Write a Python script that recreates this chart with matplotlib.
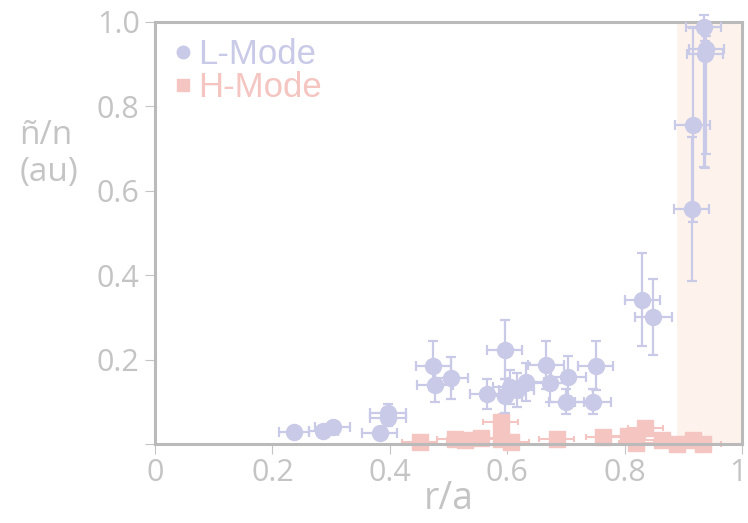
import matplotlib.pyplot as plt
from matplotlib.lines import Line2D
from matplotlib.transforms import ScaledTranslation

# --- data ---
l_x = [0.237, 0.287, 0.303, 0.383, 0.397, 0.397, 0.474, 0.477, 0.505, 0.565,
       0.596, 0.596, 0.605, 0.616, 0.632, 0.666, 0.673, 0.704, 0.701, 0.746,
       0.751, 0.830, 0.849, 0.914, 0.916, 0.935, 0.939, 0.937]
l_y = [0.029, 0.031, 0.040, 0.027, 0.074, 0.062, 0.186, 0.139, 0.156, 0.119,
       0.223, 0.114, 0.135, 0.128, 0.148, 0.188, 0.144, 0.158, 0.100, 0.100,
       0.186, 0.342, 0.300, 0.557, 0.755, 0.987, 0.937, 0.925]
l_yerr_lo = [0.005, 0.005, 0.008, 0.005, 0.02, 0.02, 0.057, 0.04, 0.05, 0.036,
             0.07, 0.04, 0.04, 0.04, 0.045, 0.057, 0.045, 0.05, 0.03, 0.03,
             0.057, 0.11, 0.09, 0.17, 0.23, 0.33, 0.25, 0.27]
l_yerr_hi = [0.005, 0.005, 0.008, 0.005, 0.02, 0.02, 0.057, 0.04, 0.05, 0.036,
             0.07, 0.04, 0.04, 0.04, 0.045, 0.057, 0.045, 0.05, 0.03, 0.03,
             0.057, 0.11, 0.09, 0.17, 0.23, 0.03, 0.03, 0.03]
l_xerr = [0.025, 0.025, 0.03, 0.03, 0.03, 0.03, 0.03, 0.03, 0.028, 0.028,
          0.03, 0.03, 0.03, 0.03, 0.03, 0.03, 0.03, 0.03, 0.03, 0.03,
          0.03, 0.03, 0.031, 0.03, 0.03, 0.03, 0.03, 0.03]

h_x = [0.451, 0.511, 0.528, 0.555, 0.589, 0.590, 0.607, 0.684, 0.764, 0.805,
       0.820, 0.835, 0.863, 0.889, 0.917, 0.934]
h_y = [0.005, 0.013, 0.010, 0.015, 0.053, 0.013, 0.005, 0.013, 0.017, 0.020,
       0.002, 0.037, 0.010, 0.0, 0.010, 0.0]
h_yerr = [0.008, 0.008, 0.008, 0.008, 0.017, 0.008, 0.008, 0.008, 0.008, 0.008,
          0.008, 0.008, 0.008, 0.008, 0.008, 0.008]
h_xerr = [0.03] * 16

x_ticks = [0, 0.2, 0.4, 0.6, 0.8, 1.0]
x_labels = ["0", "0.2", "0.4", "0.6", "0.8", "1"]
y_ticks = [0, 0.2, 0.4, 0.6, 0.8, 1.0]
y_labels = ["", "0.2", "0.4", "0.6", "0.8", "1.0"]

L_COL = "#c9c9e8"
H_COL = "#f4c5c1"
GRAY = "#bababa"
TXT = "#c4c4c4"
FONT = ["Open Sans", "DejaVu Sans"]

fig = plt.figure(figsize=(7.48, 5.23), dpi=100)
ax = fig.add_axes([0.2072, 0.151, 0.7848, 0.807])

ax.axvspan(0.89, 1.0, color="#fdf2ec", zorder=0, lw=0)

ax.errorbar(h_x, h_y, xerr=h_xerr, yerr=h_yerr, fmt="s", ms=12, color=H_COL,
            ecolor=H_COL, elinewidth=1.5, capsize=2.5, capthick=1.5,
            clip_on=False, zorder=2)
ax.errorbar(l_x, l_y, xerr=l_xerr, yerr=[l_yerr_lo, l_yerr_hi], fmt="o",
            ms=11.5, color=L_COL, ecolor=L_COL, elinewidth=1.6, capsize=3.5,
            capthick=1.6, clip_on=False, zorder=3)

ax.set_xlim(0, 1)
ax.set_ylim(0, 1)
ax.set_xticks(x_ticks)
ax.set_xticklabels(x_labels)
ax.set_yticks(y_ticks)
ax.set_yticklabels(y_labels)
for s in ax.spines.values():
    s.set_color(GRAY)
    s.set_linewidth(2.2)
ax.tick_params(colors=TXT, labelcolor=TXT, labelsize=22, length=7, width=0.8)
ax.tick_params(axis="x", pad=3)
ax.tick_params(axis="y", pad=4)
for t in ax.get_xticklabels() + ax.get_yticklabels():
    t.set_family(FONT)
# last x label sits on the right edge; nudge it in a little
last = ax.get_xticklabels()[-1]
last.set_transform(last.get_transform() + ScaledTranslation(-3 / 72, 0, fig.dpi_scale_trans))

ax.set_xlabel("r/a", fontsize=27, color=TXT, family=FONT, labelpad=-6)
fig.text(0.026, 0.705, "ñ/n\n(au)", fontsize=24, color=TXT, family=FONT,
         ha="left", va="center", linespacing=1.15)

handles = [Line2D([], [], marker="o", ls="", ms=9, color=L_COL),
           Line2D([], [], marker="s", ls="", ms=8, color=H_COL)]
leg = ax.legend(handles, ["L-Mode", "H-Mode"], loc="upper left",
                frameon=False, handletextpad=0.05,
                handlelength=0.8, labelspacing=0.0, borderaxespad=0.0,
                bbox_to_anchor=(0.0, 0.995),
                labelcolor=[L_COL, H_COL],
                prop={"family": ["Liberation Sans Narrow", "Liberation Sans", "DejaVu Sans"],
                      "size": 25})

fig.savefig("out.png", dpi=100)
